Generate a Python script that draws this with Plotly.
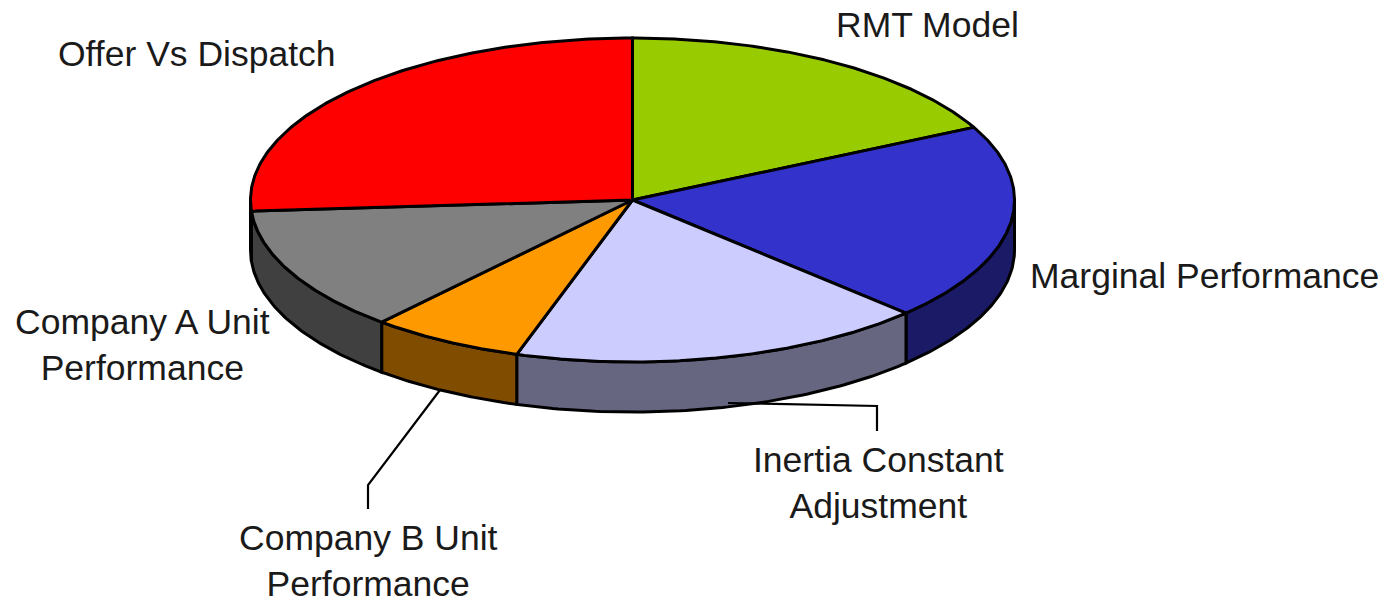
import numpy as np
import plotly.graph_objects as go

categories = ["RMT Model", "Marginal Performance", "Inertia Constant Adjustment",
              "Company B Unit Performance", "Company A Unit Performance", "Offer Vs Dispatch"]
values = [17.6, 19.7, 17.6, 6.5, 12.5, 26.1]
top_colors = ["#99CC00", "#3333CC", "#CCCCFF", "#FF9900", "#808080", "#FF0000"]
side_colors = ["#4D6600", "#1A1A66", "#666680", "#804D00", "#404040", "#800000"]
label_text = ["RMT Model", "Marginal Performance", "Inertia Constant<br>Adjustment",
              "Company B Unit<br>Performance", "Company A Unit<br>Performance", "Offer Vs Dispatch"]
label_x = [927, 1204, 878, 368, 142, 197]
label_y = [25, 276, 483, 561, 345, 54]

CX, CY, RX, RY, DEPTH = 632.5, 200, 382, 162, 50
W, H = 1391, 603


def point(theta, dy=0.0):
    # theta is clockwise from twelve o'clock; screen y grows downward
    return CX + RX * np.sin(theta), CY - RY * np.cos(theta) + dy


fractions = np.array(values) / sum(values)
edges = np.concatenate([[0.0], np.cumsum(fractions)]) * 2 * np.pi

fig = go.Figure()

# side walls (only the front half of the disc is visible)
for i, name in enumerate(categories):
    a, b = max(edges[i], np.pi / 2), min(edges[i + 1], 3 * np.pi / 2)
    if b <= a:
        continue
    t = np.linspace(a, b, 80)
    x1, y1 = point(t)
    x2, y2 = point(t[::-1], DEPTH)
    fig.add_trace(go.Scatter(
        x=np.concatenate([x1, x2, x1[:1]]), y=np.concatenate([y1, y2, y1[:1]]),
        mode="lines", fill="toself", fillcolor=side_colors[i],
        line=dict(color="black", width=3), name=name, hoverinfo="name", showlegend=False))

# top slices
for i, name in enumerate(categories):
    t = np.linspace(edges[i], edges[i + 1], 160)
    x, y = point(t)
    fig.add_trace(go.Scatter(
        x=np.concatenate([[CX], x, [CX]]), y=np.concatenate([[CY], y, [CY]]),
        mode="lines", fill="toself", fillcolor=top_colors[i],
        line=dict(color="black", width=3), name=name, hoverinfo="name", showlegend=False))

# leader lines
leaders = {2: ([728, 877, 877], [403, 406, 431]), 3: ([440, 368, 368], [390, 485, 509])}
for i, (lx, ly) in leaders.items():
    fig.add_trace(go.Scatter(x=lx, y=ly, mode="lines", line=dict(color="black", width=2.2),
                             hoverinfo="skip", showlegend=False))

for t, x, y in zip(label_text, label_x, label_y):
    fig.add_annotation(x=x, y=y, text=t, showarrow=False, xanchor="center", yanchor="middle",
                       align="center", font=dict(family="Liberation Sans", size=35.5, color="#1a1a1a"))

fig.update_layout(
    width=W, height=H, margin=dict(l=0, r=0, t=0, b=0, pad=0),
    paper_bgcolor="white", plot_bgcolor="white", showlegend=False,
    xaxis=dict(range=[0, W], visible=False, fixedrange=True),
    yaxis=dict(range=[H, 0], visible=False, fixedrange=True),
)
fig.write_html("out.html", config={"displayModeBar": False},
               post_script="document.body.style.margin='0';document.body.style.overflow='hidden';")
